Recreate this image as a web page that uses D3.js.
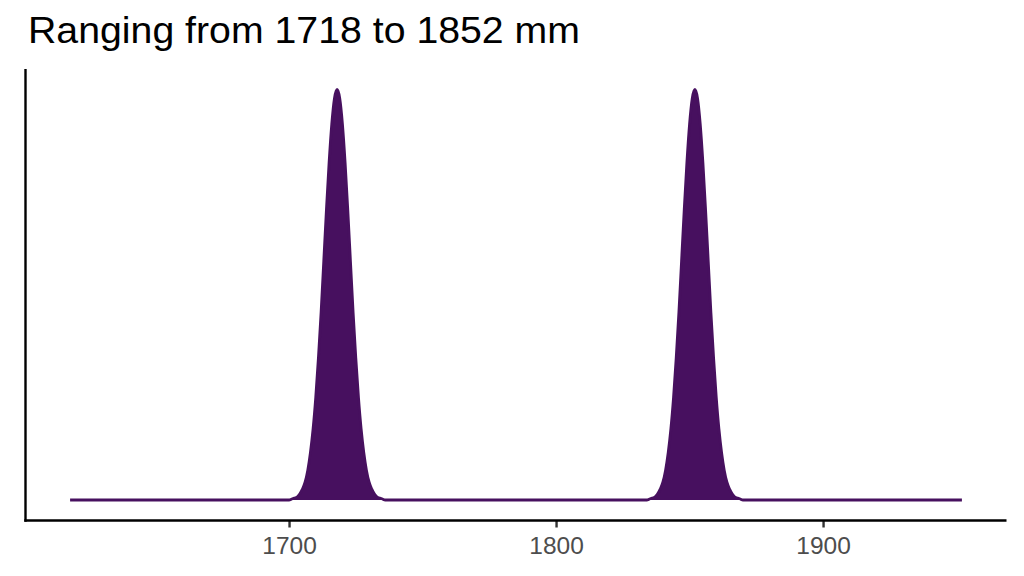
<!DOCTYPE html>
<html>
<head>
<meta charset="utf-8">
<script src="https://cdn.jsdelivr.net/npm/d3@7"></script>
<style>
  html, body { margin: 0; padding: 0; background: #fff; }
  svg { display: block; }
</style>
</head>
<body>
<svg id="chart" width="1024" height="576"></svg>
<script>
// Data: density estimate of lengths (mm)
const titleText = "Ranging from 1718 to 1852 mm";
const xTicks = [1700, 1800, 1900];
const peakCenters = [1718, 1852];
// offsets (mm) from each peak centre, and density values
const offsets = [-18, -17, -16, -15, -14, -13, -12, -11, -10, -9, -8, -7, -6, -5, -4, -3, -2, -1, 0,
                 1, 2, 3, 4, 5, 6, 7, 8, 9, 10, 11, 12, 13, 14, 15, 16, 17, 18];
const peakDensity = [0.0000, 0.0001, 0.0002, 0.0003, 0.0006, 0.0011, 0.0018, 0.0030, 0.0048, 0.0072,
                     0.0104, 0.0144, 0.0190, 0.0242, 0.0294, 0.0342, 0.0381, 0.0407, 0.0416,
                     0.0407, 0.0381, 0.0342, 0.0294, 0.0242, 0.0190, 0.0144, 0.0104, 0.0072, 0.0048,
                     0.0030, 0.0018, 0.0011, 0.0006, 0.0003, 0.0002, 0.0001, 0.0000];
const xRange = [1618, 1952];

// Build the table of points
const points = [{x: xRange[0], y: 0}];
peakCenters.forEach(c => {
  offsets.forEach((o, i) => points.push({x: c + o, y: peakDensity[i]}));
});
points.push({x: xRange[1], y: 0});

const svg = d3.select("#chart");
const margin = {left: 25.5, right: 1006.5, top: 69, bottom: 520.5};

const xSpan = xRange[1] - xRange[0];
const x = d3.scaleLinear()
  .domain([xRange[0] - 0.05 * xSpan, xRange[1] + 0.05 * xSpan])
  .range([margin.left, margin.right]);
const yMax = d3.max(peakDensity);
const y = d3.scaleLinear()
  .domain([-0.05 * yMax, yMax * 1.05])
  .range([margin.bottom, margin.top]);

const color = "#47105f";

svg.append("path")
  .datum(points)
  .attr("fill", color)
  .attr("stroke", "none")
  .attr("d", d3.area().x(d => x(d.x)).y0(y(0)).y1(d => y(d.y)).curve(d3.curveMonotoneX));

svg.append("path")
  .datum(points)
  .attr("fill", "none")
  .attr("stroke", color)
  .attr("stroke-width", 2.8)
  .attr("stroke-linejoin", "round")
  .attr("d", d3.line().x(d => x(d.x)).y(d => y(d.y)).curve(d3.curveMonotoneX));

// Axes
const xAxis = d3.axisBottom(x).tickValues(xTicks).tickSize(7).tickPadding(9).tickFormat(d3.format("d"));
const gx = svg.append("g").attr("transform", `translate(0,${margin.bottom})`).call(xAxis);
gx.select(".domain").remove();
gx.selectAll(".tick line").attr("stroke", "#333333").attr("stroke-width", 2.4);
gx.selectAll(".tick text")
  .attr("fill", "#4d4d4d")
  .attr("font-family", "Liberation Sans, Arial, sans-serif")
  .attr("font-size", 24.5);

svg.append("line")
  .attr("x1", margin.left - 1.2).attr("x2", margin.right)
  .attr("y1", margin.bottom).attr("y2", margin.bottom)
  .attr("stroke", "#000").attr("stroke-width", 2.4);
svg.append("line")
  .attr("x1", margin.left).attr("x2", margin.left)
  .attr("y1", margin.top).attr("y2", margin.bottom + 1.2)
  .attr("stroke", "#000").attr("stroke-width", 2.4);

svg.append("text")
  .attr("x", 28)
  .attr("y", 43)
  .attr("font-family", "Liberation Sans, Arial, sans-serif")
  .attr("font-size", 37)
  .attr("textLength", 552)
  .attr("lengthAdjust", "spacingAndGlyphs")
  .attr("fill", "#000")
  .text(titleText);
</script>
</body>
</html>
